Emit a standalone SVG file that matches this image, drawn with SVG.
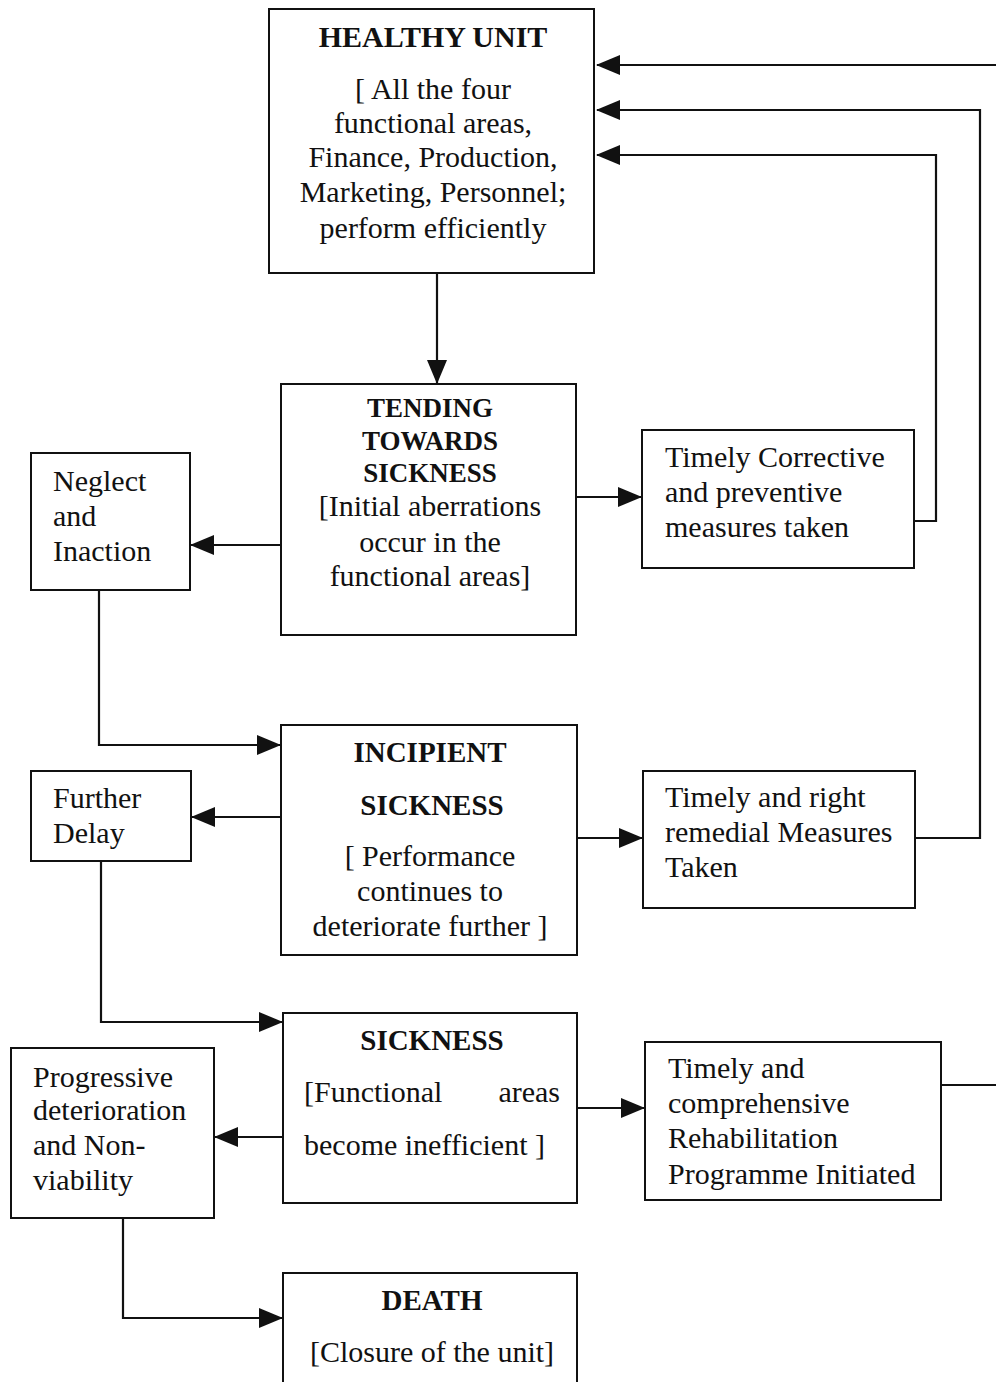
<svg xmlns="http://www.w3.org/2000/svg" width="996" height="1382" viewBox="0 0 996 1382">
<style>
text { font-family: "Liberation Serif", "Times New Roman", serif; font-size: 30px; fill: #111; }
.b { font-weight: bold; font-size: 29px; }
.c { text-anchor: middle; }
.box { fill: #fff; stroke: #111; stroke-width: 2; }
.ln { fill: none; stroke: #111; stroke-width: 2.2; }
</style>
<defs>
<marker id="ah" markerUnits="userSpaceOnUse" markerWidth="24" markerHeight="20" refX="23" refY="10" orient="auto">
<path d="M0,0 L24,10 L0,20 z" fill="#111"/>
</marker>
</defs>
<rect width="996" height="1382" fill="#fff"/>

<g id="connectors">
<path class="ln" d="M437,273 V383" marker-end="url(#ah)"/>
<path class="ln" d="M281,545 H191" marker-end="url(#ah)"/>
<path class="ln" d="M576,497 H641" marker-end="url(#ah)"/>
<path class="ln" d="M914,521 H936 V155 H597" marker-end="url(#ah)"/>
<path class="ln" d="M916,838 H980 V110 H597" marker-end="url(#ah)"/>
<path class="ln" d="M996,65 H597" marker-end="url(#ah)"/>
<path class="ln" d="M99,590 V745 H280" marker-end="url(#ah)"/>
<path class="ln" d="M281,817 H192" marker-end="url(#ah)"/>
<path class="ln" d="M577,838 H642" marker-end="url(#ah)"/>
<path class="ln" d="M101,861 V1022 H282" marker-end="url(#ah)"/>
<path class="ln" d="M283,1137 H215" marker-end="url(#ah)"/>
<path class="ln" d="M577,1108 H644" marker-end="url(#ah)"/>
<path class="ln" d="M941,1085 H996"/>
<path class="ln" d="M123,1218 V1318 H282" marker-end="url(#ah)"/>
</g>

<g id="healthy">
<rect class="box" x="269" y="9" width="325" height="264"/>
<text class="b c" x="433" y="47" style="font-size:30px">HEALTHY UNIT</text>
<text class="c" x="433" y="99">[ All the four</text>
<text class="c" x="433" y="133">functional areas,</text>
<text class="c" x="433" y="167">Finance, Production,</text>
<text class="c" x="433" y="202">Marketing, Personnel;</text>
<text class="c" x="433" y="238">perform efficiently</text>
</g>

<g id="tending">
<rect class="box" x="281" y="384" width="295" height="251"/>
<text class="b c" x="430" y="417" style="font-size:27px">TENDING</text>
<text class="b c" x="430" y="450" style="font-size:27px">TOWARDS</text>
<text class="b c" x="430" y="482" style="font-size:27px">SICKNESS</text>
<text class="c" x="430" y="516">[Initial aberrations</text>
<text class="c" x="430" y="552">occur in the</text>
<text class="c" x="430" y="586">functional areas]</text>
</g>

<g id="corrective">
<rect class="box" x="642" y="430" width="272" height="138"/>
<text x="665" y="467">Timely Corrective</text>
<text x="665" y="502">and preventive</text>
<text x="665" y="537">measures taken</text>
</g>

<g id="neglect">
<rect class="box" x="31" y="453" width="159" height="137"/>
<text x="53" y="491">Neglect</text>
<text x="53" y="526">and</text>
<text x="53" y="561">Inaction</text>
</g>

<g id="incipient">
<rect class="box" x="281" y="725" width="296" height="230"/>
<text class="b c" x="430" y="762">INCIPIENT</text>
<text class="b c" x="432" y="815">SICKNESS</text>
<text class="c" x="430" y="866">[ Performance</text>
<text class="c" x="430" y="901">continues to</text>
<text class="c" x="430" y="936">deteriorate further ]</text>
</g>

<g id="further">
<rect class="box" x="31" y="771" width="160" height="90"/>
<text x="53" y="808">Further</text>
<text x="53" y="843">Delay</text>
</g>

<g id="remedial">
<rect class="box" x="643" y="771" width="272" height="137"/>
<text x="665" y="807">Timely and right</text>
<text x="665" y="842">remedial Measures</text>
<text x="665" y="877">Taken</text>
</g>

<g id="sickness">
<rect class="box" x="283" y="1013" width="294" height="190"/>
<text class="b c" x="432" y="1050">SICKNESS</text>
<text x="304" y="1102">[Functional</text>
<text x="560" y="1102" style="text-anchor:end">areas</text>
<text x="304" y="1155">become inefficient ]</text>
</g>

<g id="progressive">
<rect class="box" x="11" y="1048" width="203" height="170"/>
<text x="33" y="1087">Progressive</text>
<text x="33" y="1120">deterioration</text>
<text x="33" y="1155">and Non-</text>
<text x="33" y="1190">viability</text>
</g>

<g id="rehab">
<rect class="box" x="645" y="1042" width="296" height="158"/>
<text x="668" y="1078">Timely and</text>
<text x="668" y="1113">comprehensive</text>
<text x="668" y="1148">Rehabilitation</text>
<text x="668" y="1184">Programme Initiated</text>
</g>

<g id="death">
<rect class="box" x="283" y="1273" width="294" height="120"/>
<text class="b c" x="432" y="1310">DEATH</text>
<text class="c" x="432" y="1362">[Closure of the unit]</text>
</g>
</svg>
